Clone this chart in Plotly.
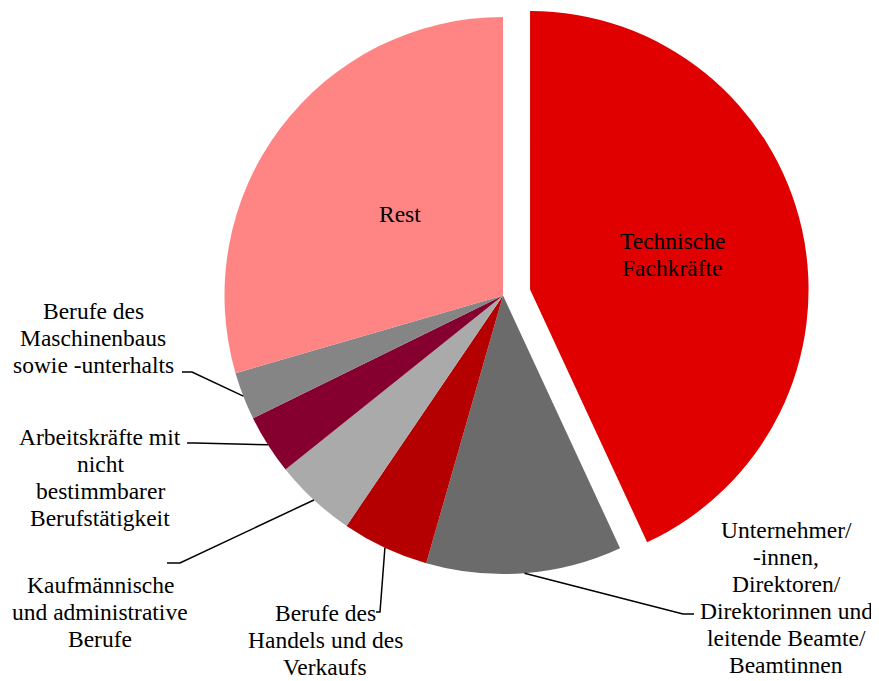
import math
import plotly.graph_objects as go

# ---------------- data ----------------
categories = [
    "Technische Fachkräfte",
    "Unternehmer/ -innen, Direktoren/ Direktorinnen und leitende Beamte/ Beamtinnen",
    "Berufe des Handels und des Verkaufs",
    "Kaufmännische und administrative Berufe",
    "Arbeitskräfte mit nicht bestimmbarer Berufstätigkeit",
    "Berufe des Maschinenbaus sowie -unterhalts",
    "Rest",
]
values = [43.1, 11.35, 5.05, 4.77, 3.47, 2.77, 29.5]
label_lines = [
    ["Technische", "Fachkräfte"],
    ["Unternehmer/", "-innen,", "Direktoren/", "Direktorinnen und", "leitende Beamte/", "Beamtinnen"],
    ["Berufe des", "Handels und des", "Verkaufs"],
    ["Kaufmännische", "und administrative", "Berufe"],
    ["Arbeitskräfte mit", "nicht", "bestimmbarer", "Berufstätigkeit"],
    ["Berufe des", "Maschinenbaus", "sowie -unterhalts"],
    ["Rest"],
]
colors = ["#E00000", "#6B6B6B", "#B40000", "#AAAAAA", "#85002E", "#858585", "#FF8585"]

# ---------------- layout (pixels, screen coordinates) ----------------
PAGE_OFF = 8           # default page body margin
W, H = 879 - PAGE_OFF, 681 - PAGE_OFF
CX, CY, R = 503.0, 295.5, 278.5
PULL = 0.0995          # pulled slice: index 0
LINE_H = 27
FONT = dict(family="Liberation Serif", size=23.5, color="#000000")

# label placement: (text block center x, center y)
label_pos = {
    0: (672, 254.5),
    1: (786, 597.5),
    2: (325, 640),
    3: (100, 612),
    4: (100, 477),
    5: (93, 338),
    6: (400, 214),
}
# leader elbows for outside labels: (elbow x, elbow y, end x)
leader = {
    1: (683, 614, 694),
    2: (380, 612, 376),
    3: (180, 563, 167),
    4: (195, 443, 187),
    5: (192, 372, 182),
}


def px(x):
    return (x - PAGE_OFF) / W


def py(y):
    return 1 - (y - PAGE_OFF) / H


total = sum(values)
mid_angles = []
acc = 0.0
for v in values:
    mid_angles.append((acc + v / 2) / total * 2 * math.pi)
    acc += v

# offset of pulled slice along its bisector
a0 = mid_angles[0]
off_x = PULL * R * math.sin(a0)
off_y = -PULL * R * math.cos(a0)


def domain(cx, cy):
    return dict(x=[px(cx - R), px(cx + R)], y=[py(cy + R), py(cy - R)])


colors_main = [("rgba(0,0,0,0)" if i == 0 else c) for i, c in enumerate(colors)]
colors_pulled = [(c if i == 0 else "rgba(0,0,0,0)") for i, c in enumerate(colors)]

fig = go.Figure()
for cols, (cx, cy) in [(colors_main, (CX, CY)), (colors_pulled, (CX + off_x, CY + off_y))]:
    fig.add_trace(go.Pie(
        labels=categories,
        values=values,
        sort=False,
        direction="clockwise",
        rotation=0,
        marker=dict(colors=cols, line=dict(width=0)),
        textinfo="none",
        hoverinfo="skip",
        showlegend=False,
        domain=domain(cx, cy),
    ))

annotations = []
shapes = []
for i, lines in enumerate(label_lines):
    tx, ty = label_pos[i]
    if i in leader:
        a = mid_angles[i]
        ex = CX + R * math.sin(a)
        ey = CY - R * math.cos(a)
        bx, by, endx = leader[i]
        shapes.append(dict(
            type="path", xref="paper", yref="paper",
            path=f"M {px(ex)},{py(ey)} L {px(bx)},{py(by)} L {px(endx)},{py(by)}",
            line=dict(color="#000000", width=1.5),
        ))
    n = len(lines)
    for k, line in enumerate(lines):
        ly = ty + (k - (n - 1) / 2) * LINE_H
        annotations.append(dict(
            x=px(tx), y=py(ly), xref="paper", yref="paper",
            text=line, showarrow=False, align="center",
            xanchor="center", yanchor="middle", font=FONT,
        ))

fig.update_layout(
    width=W, height=H,
    margin=dict(l=0, r=0, t=0, b=0),
    paper_bgcolor="#FFFFFF",
    plot_bgcolor="#FFFFFF",
    annotations=annotations,
    shapes=shapes,
    showlegend=False,
)

fig.write_html("out.html")
